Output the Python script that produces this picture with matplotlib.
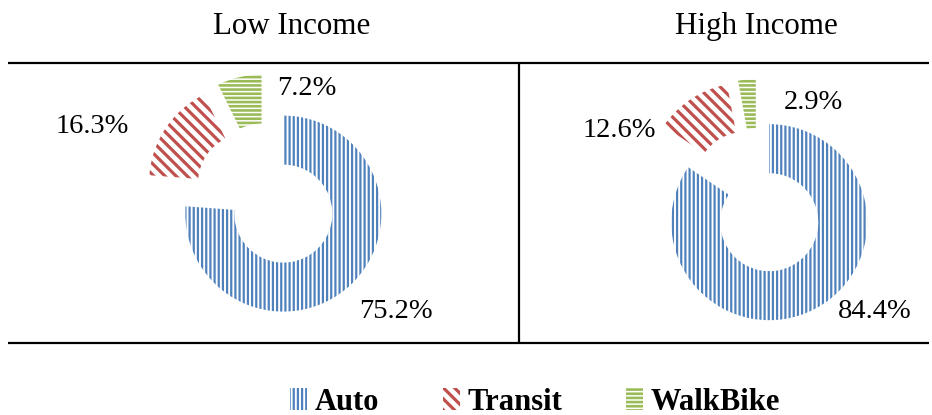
import matplotlib
matplotlib.use('Agg')
import matplotlib.pyplot as plt

# ---- data ----
modes = ['Auto', 'Transit', 'WalkBike']
groups = ['Low Income', 'High Income']
low_income = [75.2, 16.3, 7.2]
high_income = [84.4, 12.6, 2.9]

# ---- style ----
colors = ['#4F81BD', '#C0504D', '#9BBB59']
hatches = ['||||', '\\\\\\', '----']
hatch_lw = [1.6, 2.3, 1.9]

W, H = 932, 415
plt.rcParams['font.family'] = ['Liberation Serif', 'DejaVu Serif']
plt.rcParams['hatch.linewidth'] = 1.6

fig = plt.figure(figsize=(W / 100, H / 100), dpi=100)
ax = fig.add_axes([0, 0, 1, 1])


def py(y):
    return H - y


centers = [(267, py(196)), (758, py(201))]
R = 98
ring = 49
explode_px = 24
label_pos = [[(396, 318), (92, 133), (307, 95)],
             [(875, 318), (619, 137), (813, 109)]]
title_pos = [(292, 34), (756, 34)]

first_wedges = None
for vals, c, lp, tp, g in zip([low_income, high_income], centers, label_pos, title_pos, groups):
    wedges, _ = ax.pie(vals, colors=['white'] * 3, hatch=hatches, startangle=90,
                       counterclock=False, radius=R, center=c,
                       explode=[explode_px] * 3,
                       wedgeprops=dict(width=ring, linewidth=0), frame=True)
    for w, col, hl in zip(wedges, colors, hatch_lw):
        w.set_edgecolor(col)
        w.set_linewidth(0)
        if hasattr(w, 'set_hatch_linewidth'):
            w.set_hatch_linewidth(hl)
    if first_wedges is None:
        first_wedges = wedges
    for v, (x, y) in zip(vals, lp):
        ax.text(x, py(y), f'{v:.1f}%', ha='center', va='baseline', fontsize=20.5)
    ax.text(tp[0], py(tp[1]), g, ha='center', va='baseline', fontsize=22.3)

# table rules
ax.plot([8, 929], [py(63)] * 2, color='black', lw=1.6, solid_capstyle='butt')
ax.plot([8, 929], [py(343)] * 2, color='black', lw=1.6, solid_capstyle='butt')
ax.plot([519, 519], [py(63), py(343)], color='black', lw=1.6, solid_capstyle='butt')

ax.set_xlim(0, W)
ax.set_ylim(0, H)
ax.axis('off')

leg = fig.legend(first_wedges, modes, loc='center', bbox_to_anchor=(535 / W, 1 - 402 / H),
                 ncol=3, frameon=False,
                 prop=dict(family='Liberation Serif', weight='bold', size=22),
                 handlelength=0.55, handleheight=0.7, handletextpad=0.25, columnspacing=2.1)
for p, hl in zip(leg.get_patches(), hatch_lw):
    if hasattr(p, 'set_hatch_linewidth'):
        p.set_hatch_linewidth(hl)

fig.savefig('out.png', dpi=100)
